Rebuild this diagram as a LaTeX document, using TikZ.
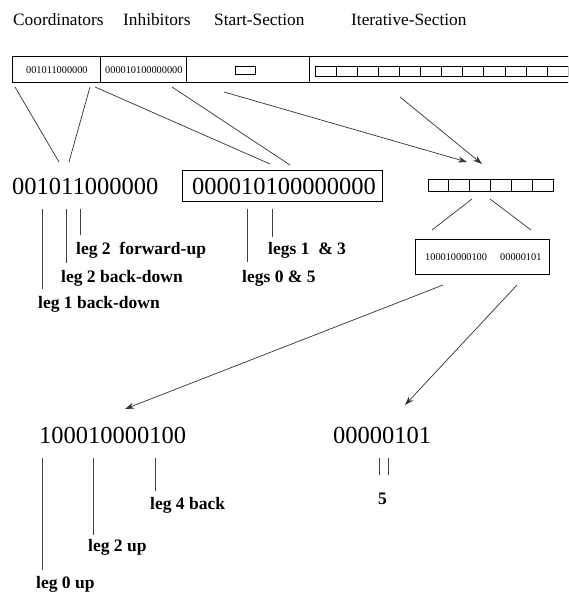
\documentclass[tikz,border=0pt]{standalone}
\usepackage{fontspec}
\setmainfont{Liberation Serif}
\usetikzlibrary{arrows.meta}
\begin{document}
\begin{tikzpicture}[x=1pt,y=-1pt,
  hdr/.style={font=\fontsize{17.3}{20}\selectfont, anchor=base west, inner sep=0},
  tiny/.style={font=\fontsize{10.3}{12}\selectfont, anchor=base west, inner sep=0},
  big/.style={font=\fontsize{24.5}{28}\selectfont, anchor=base west, inner sep=0},
  lbl/.style={font=\bfseries\fontsize{17.5}{20}\selectfont, anchor=base west, inner sep=0},
  conn/.style={line width=0.7pt, draw=black!80},
  arr/.style={conn, -{Stealth[length=9pt,width=6pt]}},
  tick/.style={line width=0.8pt, draw=black!75},
  frame/.style={line width=1pt, draw=black},
  cell/.style={line width=0.8pt, draw=black}]
\useasboundingbox (0,0) rectangle (568,594);
\clip (0,0) rectangle (568,594);
\fill[white] (0,0) rectangle (568,594);

% headers
\node[hdr] (hC) at (13,26) {Coordinators};
\node[hdr] (hI) at (123,26) {Inhibitors};
\node[hdr] (hS) at (214,26) {Start-Section};
\node[hdr] (hT) at (351,26) {Iterative-Section};

% top bar
\draw[frame] (580,57) -- (12,57) -- (12,82) -- (580,82);
\draw[frame] (100,57) -- (100,82);
\draw[frame] (186,57) -- (186,82);
\draw[frame] (309,57) -- (309,82);
\node[tiny] (tc) at (26,74) {001011000000};
\node[tiny] (ti) at (105,74) {000010100000000};
\node[cell, minimum width=20pt, minimum height=8pt, inner sep=0] (ts) at (245,70) {};
\foreach \i in {0,...,12}
  \draw[cell] (315+21.1*\i,66) rectangle (336.1+21.1*\i,76);

% middle row
\node[big] (nc) at (12,194) {001011000000};
\node[frame, draw, minimum width=200pt, minimum height=31pt, inner sep=0] (ibox) at (282,185.5) {};
\node[big] (ni) at (192,194) {000010100000000};
\foreach \i in {0,...,5}
  \draw[cell] (428+20.83*\i,179) rectangle (448.83+20.83*\i,191);
\node[frame, draw, minimum width=134pt, minimum height=35pt, inner sep=0] (pbox) at (482,256.5) {};
\node[tiny] (p1) at (425,260) {100010000100};
\node[tiny] (p2) at (500,260) {00000101};

% connector end points
\coordinate (a1) at (15,87);   \coordinate (a2) at (59,162);
\coordinate (b1) at (90,87);   \coordinate (b2) at (69,162);
\coordinate (c1) at (95,87);   \coordinate (c2) at (270,164);
\coordinate (d1) at (172,87);  \coordinate (d2) at (290,165);
\coordinate (e1) at (224,92);  \coordinate (e2) at (467,162);
\coordinate (f1) at (400,97);  \coordinate (f2) at (482,164);
\coordinate (g1) at (472,199); \coordinate (g2) at (432,230);
\coordinate (h1) at (490,199); \coordinate (h2) at (531,230);
\coordinate (k1) at (443,285); \coordinate (k2) at (125,409);
\coordinate (m1) at (517,285); \coordinate (m2) at (405,405);

\draw[conn] (a1) -- (a2);
\draw[conn] (b1) -- (b2);
\draw[conn] (c1) -- (c2);
\draw[conn] (d1) -- (d2);
\draw[arr] (e1) -- (e2);
\draw[arr] (f1) -- (f2);
\draw[conn] (g1) -- (g2);
\draw[conn] (h1) -- (h2);
\draw[arr] (k1) -- (k2);
\draw[arr] (m1) -- (m2);

% middle labels
\node[lbl] (l1) at (76,254) {leg 2~~forward-up};
\node[lbl] (l2) at (61,282) {leg 2 back-down};
\node[lbl] (l3) at (38,308) {leg 1 back-down};
\node[lbl] (l4) at (268,254) {legs 1~~\& 3};
\node[lbl] (l5) at (242,282) {legs 0 \& 5};
\coordinate (t1a) at (80,209);  \coordinate (t1b) at (80,235);
\coordinate (t2a) at (66,209);  \coordinate (t2b) at (66,263);
\coordinate (t3a) at (42,209);  \coordinate (t3b) at (42,289);
\coordinate (t4a) at (272,209); \coordinate (t4b) at (272,237);
\coordinate (t5a) at (247,209); \coordinate (t5b) at (247,262);
\draw[tick] (t1a) -- (t1b);
\draw[tick] (t2a) -- (t2b);
\draw[tick] (t3a) -- (t3b);
\draw[tick] (t4a) -- (t4b);
\draw[tick] (t5a) -- (t5b);

% bottom row
\node[big] (bl) at (39,443) {100010000100};
\node[big] (br) at (333,443) {00000101};
\node[lbl] (u1) at (150,509) {leg 4 back};
\node[lbl] (u2) at (88,551) {leg 2 up};
\node[lbl] (u3) at (36,588) {leg 0 up};
\node[lbl] (u4) at (378,504) {5};
\coordinate (s1a) at (155,458); \coordinate (s1b) at (155,491);
\coordinate (s2a) at (93,458);  \coordinate (s2b) at (93,535);
\coordinate (s3a) at (42,458);  \coordinate (s3b) at (42,570);
\coordinate (s4a) at (379,458); \coordinate (s4b) at (379,475);
\coordinate (s5a) at (388,458); \coordinate (s5b) at (388,475);
\draw[tick] (s1a) -- (s1b);
\draw[tick] (s2a) -- (s2b);
\draw[tick] (s3a) -- (s3b);
\draw[tick] (s4a) -- (s4b);
\draw[tick] (s5a) -- (s5b);
\end{tikzpicture}
\end{document}
